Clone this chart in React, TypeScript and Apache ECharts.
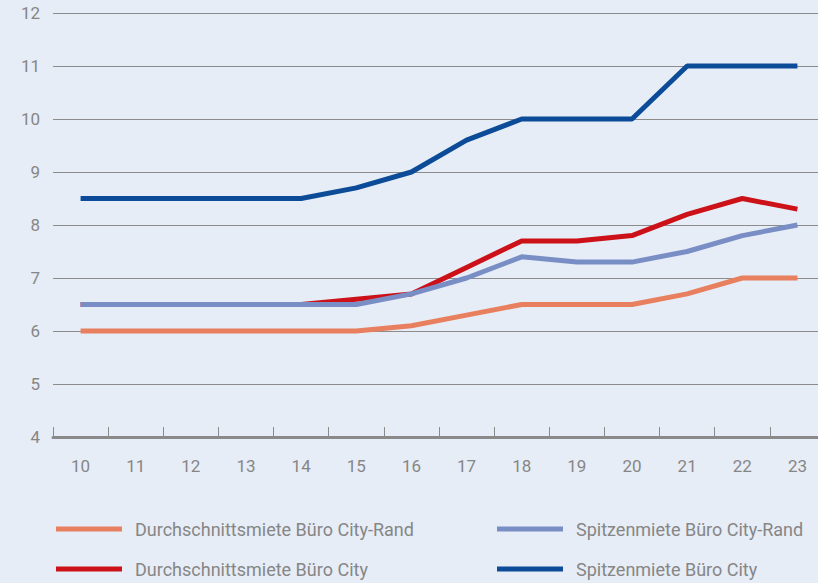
import React, { useEffect, useRef } from "react";
import * as echarts from "echarts";

const categories = ["10", "11", "12", "13", "14", "15", "16", "17", "18", "19", "20", "21", "22", "23"];
const durchschnittRand = [6.0, 6.0, 6.0, 6.0, 6.0, 6.0, 6.1, 6.3, 6.5, 6.5, 6.5, 6.7, 7.0, 7.0];
const durchschnittCity = [6.5, 6.5, 6.5, 6.5, 6.5, 6.6, 6.7, 7.2, 7.7, 7.7, 7.8, 8.2, 8.5, 8.3];
const spitzeRand = [6.5, 6.5, 6.5, 6.5, 6.5, 6.5, 6.7, 7.0, 7.4, 7.3, 7.3, 7.5, 7.8, 8.0];
const spitzeCity = [8.5, 8.5, 8.5, 8.5, 8.5, 8.7, 9.0, 9.6, 10, 10, 10, 11, 11, 11];

const names = [
  "Durchschnittsmiete Büro City-Rand",
  "Durchschnittsmiete Büro City",
  "Spitzenmiete Büro City-Rand",
  "Spitzenmiete Büro City",
];
const colors = ["#e8805f", "#cc1218", "#7a8ec6", "#0b4b98"];

export default function App() {
  const ref = useRef<HTMLDivElement>(null);
  useEffect(() => {
    if (!ref.current) return;
    const chart = echarts.init(ref.current, undefined, { renderer: "svg" });
    const font = "Roboto, 'Noto Sans', sans-serif";
    const datasets = [durchschnittRand, durchschnittCity, spitzeRand, spitzeCity];
    const legendCommon = {
      orient: "vertical" as const,
      top: 515,
      height: 68,
      itemWidth: 66,
      itemHeight: 5,
      itemGap: 22,
      icon: "rect",
      textStyle: { color: "#868686", fontSize: 18, fontFamily: font, padding: [0, 0, 0, 8] },
      selectedMode: false,
    };
    chart.setOption({
      animation: false,
      backgroundColor: "#e6edf6",
      grid: { left: 53, right: 0, top: 13, bottom: 146, containLabel: false },
      legend: [
        { ...legendCommon, left: 51, data: [names[0], names[1]] },
        { ...legendCommon, left: 492, data: [names[2], names[3]] },
      ],
      xAxis: {
        type: "category",
        data: categories,
        boundaryGap: true,
        axisLine: { show: true, lineStyle: { color: "#8a8a8a", width: 3 } },
        axisTick: { show: true, inside: true, length: 10, lineStyle: { color: "#8a8a8a", width: 1 } },
        axisLabel: { color: "#868686", fontSize: 17, fontFamily: font, margin: 20 },
        splitLine: { show: false },
      },
      yAxis: {
        type: "value",
        min: 4,
        max: 12,
        interval: 1,
        axisLine: { show: false },
        axisTick: { show: false },
        axisLabel: { color: "#868686", fontSize: 17, fontFamily: font, margin: 13 },
        splitLine: { show: true, lineStyle: { color: "#8c8c8c", width: 1 } },
      },
      series: datasets.map((d, i) => ({
        type: "line",
        name: names[i],
        data: d,
        showSymbol: false,
        symbol: "none",
        lineStyle: { color: colors[i], width: 5 },
        itemStyle: { color: colors[i] },
        z: 2 + i,
      })),
    });
    return () => chart.dispose();
  }, []);
  return (
    <div style={{ position: "fixed", left: 0, top: 0, width: 818, height: 583, overflow: "hidden", background: "#e6edf6" }}>
      <div ref={ref} style={{ width: 825, height: 583 }} />
    </div>
  );
}
